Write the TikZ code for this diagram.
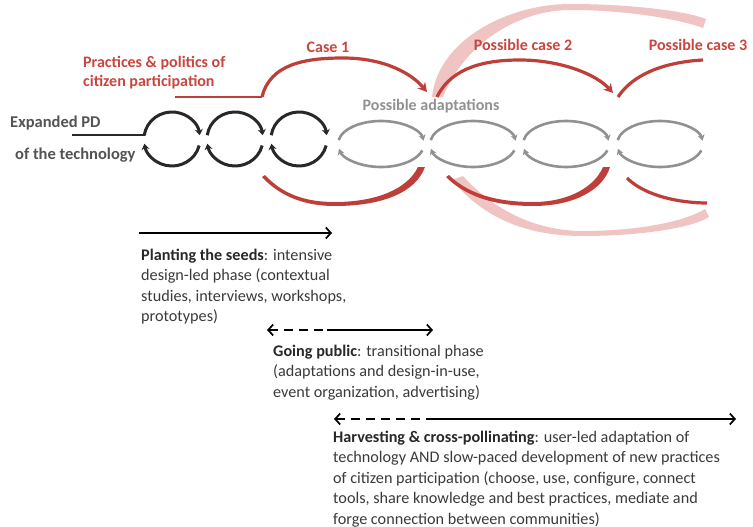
\documentclass[tikz,border=0pt]{standalone}
\usepackage{fontspec}
\setmainfont{Carlito}
\usetikzlibrary{arrows.meta}
\definecolor{cred}{RGB}{190,62,56}
\definecolor{ctitle}{RGB}{200,70,62}
\definecolor{cpink}{RGB}{236,186,184}
\definecolor{cgray}{RGB}{145,145,145}
\definecolor{cdark}{RGB}{40,40,40}
\definecolor{ctext}{RGB}{58,58,58}
\tikzset{
  blackloop/.style={draw=cdark,line width=3pt,-{Stealth[length=6pt,width=8pt]}},
  grayloop/.style={draw=cgray,line width=2.6pt,-{Stealth[length=6pt,width=7pt]}},
  redarc/.style={draw=cred,line width=3.2pt},
  redfill/.style={fill=cred,draw=none},
  redarrow/.style={redarc,-{Stealth[length=9pt,width=10pt]}},
  pinkfill/.style={fill=cpink,draw=none,fill opacity=0.85},
  redtitle/.style={text=ctitle,font=\fontsize{16}{19}\selectfont\bfseries,inner sep=0pt},
  lefttext/.style={text=cdark,font=\fontsize{16.5}{19}\selectfont\bfseries,inner sep=0pt,text opacity=0.8},
  body/.style={text=ctext,font=\fontsize{16.2}{20.4}\selectfont,align=left,inner sep=0pt,anchor=north west},
  phase/.style={draw=black,line width=1.7pt,-{Straight Barb[length=5pt,width=11pt,line width=1.7pt]}},
  phasedash/.style={draw=black,line width=1.7pt,dash pattern=on 9pt off 6pt,{Straight Barb[length=5pt,width=11pt,line width=1.7pt]}-}
}
\begin{document}
\begin{tikzpicture}[x=1pt,y=1pt]
\useasboundingbox (0,0) rectangle (753,-527);

% big faded ring (top and bottom halves)
\path[pinkfill] (432,-97) .. controls (438,-40) and (508,-4) .. (570,-4) .. controls (630,-4) and (686,-11) .. (706,-19)
   -- (703,-28) .. controls (682,-20) and (630,-10) .. (570,-10) .. controls (522,-10) and (466,-40) .. (443,-97) -- cycle;
\path[pinkfill] (452,-180) .. controls (490,-226) and (540,-236) .. (583,-236) .. controls (640,-236) and (692,-228) .. (709,-217)
   -- (705,-209) .. controls (686,-221) and (640,-231) .. (583,-231) .. controls (545,-231) and (500,-217) .. (463,-176) -- cycle;

% loops
\foreach \cx in {172,235,299} {
  \begin{scope}[shift={(\cx,-139)}]
    \draw[blackloop] (172:28 and 27) arc[start angle=172,end angle=8,x radius=28,y radius=27];
    \draw[blackloop] (-14:28 and 27) arc[start angle=-14,end angle=-170,x radius=28,y radius=27];
  \end{scope}
}
\foreach \cx in {381,473,566,660} {
  \begin{scope}[shift={(\cx,-144)}]
    \draw[grayloop] (170:43 and 23) arc[start angle=170,end angle=8,x radius=43,y radius=23];
    \draw[grayloop] (-16:43 and 23) arc[start angle=-16,end angle=-168,x radius=43,y radius=23];
  \end{scope}
}

% left connector
\coordinate (pdstart) at (72,-135);
\coordinate (pdend) at (144.5,-135);
\draw[cdark,line width=2.4pt] (pdstart) -- (pdend);

% red arcs (top)
\draw[cred,line width=2pt] (175,-97) -- (262,-97);
\draw[redarrow] (262,-97) .. controls (270,-64) and (305,-58) .. (343,-58) .. controls (385,-58) and (412,-74) .. (427,-92);
\draw[redarrow] (437,-97) .. controls (452,-66) and (488,-60) .. (520,-60) .. controls (560,-60) and (596,-74) .. (613,-93);
\draw[redarc] (618,-97) .. controls (633,-74) and (665,-62) .. (703,-60);
% red arcs (bottom)
\path[redfill] (262,-177) .. controls (285,-202) and (315,-206) .. (335,-206) .. controls (383,-206) and (416,-192) .. (425,-167)
   -- (418,-167) .. controls (408,-188) and (378,-202) .. (335,-202) .. controls (315,-202) and (287,-199) .. (265,-175) -- cycle;
\path[redfill] (446,-177) .. controls (470,-201) and (505,-206) .. (533,-206) .. controls (574,-206) and (603,-190) .. (610,-167)
   -- (603,-167) .. controls (595,-186) and (570,-202) .. (533,-202) .. controls (507,-202) and (472,-198) .. (449,-175) -- cycle;
\draw[redarc] (627,-178) .. controls (645,-196) and (680,-203) .. (707,-203);

% titles
\node[redtitle,anchor=west] (pp1) at (83,-63) {Practices \& politics of};
\node[redtitle,anchor=west] (pp2) at (83,-82) {citizen participation};
\node[redtitle] (case1) at (328,-47) {Case 1};
\node[redtitle] (case2) at (523,-45) {Possible case 2};
\node[redtitle] (case3) at (698,-45) {Possible case 3};
\node[lefttext,anchor=west] (epd) at (10,-123) {Expanded PD};
\node[lefttext,anchor=west] (tech) at (15,-155) {of the technology};
\node[redtitle,text=cgray] (adapt) at (431,-106) {Possible adaptations};

% phases
\coordinate (a1s) at (139,-233);
\coordinate (a1e) at (332,-233);
\draw[phase] (a1s) -- (a1e);
\node[body] (t1) at (141,-249) {\textbf{\color{cdark}Planting the seeds}: intensive\\design-led phase (contextual\\studies, interviews, workshops,\\prototypes)};

\coordinate (a2s) at (267,-330);
\coordinate (a2m) at (327,-330);
\coordinate (a2e) at (433,-330);
\draw[phasedash] (a2s) -- (a2m);
\draw[phase] (a2m) -- (a2e);
\node[body] (t2) at (273,-345) {\textbf{\color{cdark}Going public}: transitional phase\\(adaptations and design-in-use,\\event organization, advertising)};

\coordinate (a3s) at (334,-419);
\coordinate (a3m) at (428,-419);
\coordinate (a3e) at (736,-419);
\draw[phasedash] (a3s) -- (a3m);
\draw[phase] (a3m) -- (a3e);
\node[body] (t3) at (333,-431) {\textbf{\color{cdark}Harvesting \& cross-pollinating}: user-led adaptation of\\technology AND slow-paced development of new practices\\of citizen participation (choose, use, configure, connect\\tools, share knowledge and best practices, mediate and\\forge connection between communities)};
\end{tikzpicture}
\end{document}
